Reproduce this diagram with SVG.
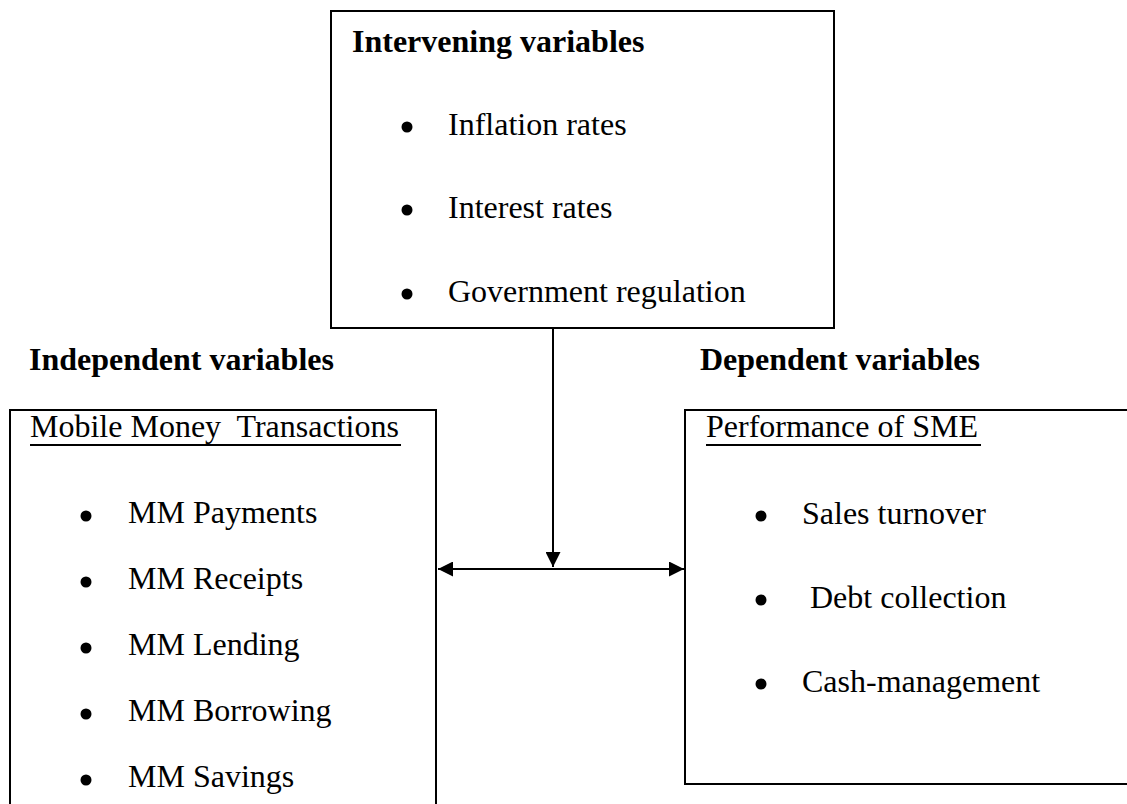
<svg xmlns="http://www.w3.org/2000/svg" width="1127" height="804" viewBox="0 0 1127 804">
<style>
.box{fill:none;stroke:#000;stroke-width:2}
.t{font-family:"Liberation Serif","Times New Roman",serif;font-size:32px;fill:#000;white-space:pre}
.b{font-weight:bold}
.dot{fill:#000}
.ul{stroke:#000;stroke-width:2}
.con{stroke:#000;stroke-width:2;fill:none}
</style>
<defs>
<marker id="ah" viewBox="0 0 10 10" refX="10" refY="5" markerWidth="7.5" markerHeight="7.5" markerUnits="strokeWidth" orient="auto-start-reverse">
<path d="M0,0 L10,5 L0,10 Z" fill="#000"/>
</marker>
</defs>
<rect width="1127" height="804" fill="#fff"/>
<g id="intervening">
<rect class="box" x="331" y="11" width="503" height="317"/>
<text class="t b" x="352" y="52">Intervening variables</text>
<circle class="dot" cx="407" cy="127" r="5.5"/>
<text class="t" x="448" y="135">Inflation rates</text>
<circle class="dot" cx="407" cy="210" r="5.5"/>
<text class="t" x="448" y="218">Interest rates</text>
<circle class="dot" cx="407" cy="294" r="5.5"/>
<text class="t" x="448" y="302">Government regulation</text>
</g>
<g id="independent-label">
<text class="t b" x="29" y="370">Independent variables</text>
</g>
<g id="dependent-label">
<text class="t b" x="700" y="370">Dependent variables</text>
</g>
<g id="independent">
<path class="box" d="M10,810 V410 H436 V810"/>
<text class="t" x="30" y="437">Mobile Money  Transactions</text>
<line class="ul" x1="30" y1="445" x2="401" y2="445"/>
<circle class="dot" cx="86" cy="516" r="5.5"/>
<text class="t" x="128" y="523">MM Payments</text>
<circle class="dot" cx="86" cy="582" r="5.5"/>
<text class="t" x="128" y="589">MM Receipts</text>
<circle class="dot" cx="86" cy="648" r="5.5"/>
<text class="t" x="128" y="655">MM Lending</text>
<circle class="dot" cx="86" cy="714" r="5.5"/>
<text class="t" x="128" y="721">MM Borrowing</text>
<circle class="dot" cx="86" cy="780" r="5.5"/>
<text class="t" x="128" y="787">MM Savings</text>
</g>
<g id="dependent">
<path class="box" d="M1135,410 H685 V784 H1135"/>
<text class="t" x="706" y="437">Performance of SME</text>
<line class="ul" x1="706" y1="445" x2="981" y2="445"/>
<circle class="dot" cx="761" cy="516" r="5.5"/>
<text class="t" x="802" y="524">Sales turnover</text>
<circle class="dot" cx="761" cy="600" r="5.5"/>
<text class="t" x="802" y="608"> Debt collection</text>
<circle class="dot" cx="761" cy="684" r="5.5"/>
<text class="t" x="802" y="692">Cash-management</text>
</g>
<g id="connectors">
<line class="con" x1="553" y1="328" x2="553" y2="567" marker-end="url(#ah)"/>
<line class="con" x1="438" y1="569" x2="684" y2="569" marker-start="url(#ah)" marker-end="url(#ah)"/>
</g>
</svg>
